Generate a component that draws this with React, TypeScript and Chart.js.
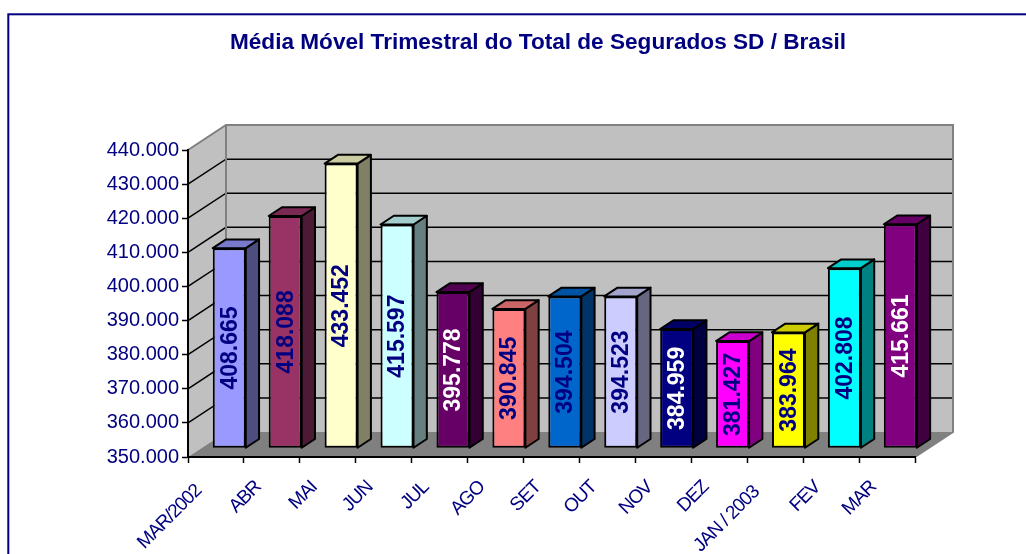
import React, { useEffect, useRef } from 'react';
import { Chart, registerables } from 'chart.js';

Chart.register(...registerables);

// ---------- data ----------
const TITLE = 'Média Móvel Trimestral do Total de Segurados SD / Brasil';
const CATEGORIES = ['MAR/2002', 'ABR', 'MAI', 'JUN', 'JUL', 'AGO', 'SET', 'OUT', 'NOV', 'DEZ', 'JAN / 2003', 'FEV', 'MAR'];
const VALUES = [408665, 418088, 433452, 415597, 395778, 390845, 394504, 394523, 384959, 381427, 383964, 402808, 415661];
const Y_MIN = 350000;
const Y_MAX = 440000;
const Y_STEP = 10000;

// ---------- styles ----------
const NAVY = '#000080';
const FONT = "'Liberation Sans', Arial, sans-serif";
const BAR_COLORS = ['#9999FF', '#993366', '#FFFFCC', '#CCFFFF', '#660066', '#FF8080', '#0066CC', '#CCCCFF', '#000080', '#FF00FF', '#FFFF00', '#00FFFF', '#800080'];
const LABEL_COLORS = [NAVY, NAVY, NAVY, NAVY, '#FFFFFF', NAVY, NAVY, NAVY, '#FFFFFF', NAVY, NAVY, NAVY, '#FFFFFF'];
const DEPTH_X = 38;
const DEPTH_Y = -25;
const BAR_FRONT = 0.35;
const BAR_BACK = 0.7;
const XLABEL_SIZE = 19;
const XLABEL_SPACING = -1;
const XLABEL_DX = -8;
const XLABEL_DY = 29;

function fmt(v: number): string {
  return Math.round(v).toString().replace(/\B(?=(\d{3})+(?!\d))/g, '.');
}

function shade(hex: string, f: number): string {
  const n = parseInt(hex.slice(1), 16);
  const r = Math.round(((n >> 16) & 255) * f);
  const g = Math.round(((n >> 8) & 255) * f);
  const b = Math.round((n & 255) * f);
  return `rgb(${r},${g},${b})`;
}

function poly(ctx: CanvasRenderingContext2D, pts: number[][]) {
  ctx.beginPath();
  ctx.moveTo(pts[0][0], pts[0][1]);
  for (let i = 1; i < pts.length; i++) ctx.lineTo(pts[i][0], pts[i][1]);
  ctx.closePath();
}

const threeD = {
  id: 'threeD',
  beforeDraw(chart: any) {
    const { ctx, chartArea: a, scales } = chart;
    const ys = scales.y;
    const dx = DEPTH_X;
    const dy = DEPTH_Y;
    ctx.save();
    // outer frame
    ctx.strokeStyle = NAVY;
    ctx.lineWidth = 2;
    ctx.strokeRect(8.3, 14.3, 3000, 3000);

    // back wall
    ctx.fillStyle = '#C0C0C0';
    ctx.fillRect(a.left + dx, a.top + dy, a.right - a.left, a.bottom - a.top);
    // side wall
    poly(ctx, [[a.left, a.top], [a.left + dx, a.top + dy], [a.left + dx, a.bottom + dy], [a.left, a.bottom]]);
    ctx.fill();
    // floor
    ctx.fillStyle = '#808080';
    poly(ctx, [[a.left, a.bottom], [a.right, a.bottom], [a.right + dx, a.bottom + dy], [a.left + dx, a.bottom + dy]]);
    ctx.fill();

    // gridlines
    ctx.strokeStyle = '#000000';
    ctx.lineWidth = 1.5;
    for (const t of ys.ticks) {
      if (t.value <= Y_MIN || t.value >= Y_MAX) continue;
      const py = ys.getPixelForValue(t.value);
      ctx.beginPath();
      ctx.moveTo(a.left, py);
      ctx.lineTo(a.left + dx, py + dy);
      ctx.lineTo(a.right + dx, py + dy);
      ctx.stroke();
    }

    // wall edges
    ctx.strokeStyle = '#808080';
    ctx.lineWidth = 2;
    ctx.beginPath();
    ctx.moveTo(a.left, a.top);
    ctx.lineTo(a.left + dx, a.top + dy);
    ctx.lineTo(a.right + dx, a.top + dy);
    ctx.lineTo(a.right + dx, a.bottom + dy);
    ctx.lineTo(a.right, a.bottom);
    ctx.moveTo(a.left + dx, a.top + dy);
    ctx.lineTo(a.left + dx, a.bottom + dy);
    ctx.stroke();
    ctx.restore();
  },
  beforeDatasetsDraw(chart: any) {
    chart.ctx.save();
    chart.ctx.translate(DEPTH_X * BAR_FRONT, DEPTH_Y * BAR_FRONT);
  },
  afterDatasetsDraw(chart: any) {
    const ctx = chart.ctx;
    ctx.restore();
    const meta = chart.getDatasetMeta(0);
    const fx = DEPTH_X * BAR_FRONT;
    const fy = DEPTH_Y * BAR_FRONT;
    const bx = DEPTH_X * BAR_BACK;
    const by = DEPTH_Y * BAR_BACK;
    ctx.save();
    ctx.lineWidth = 2;
    ctx.lineJoin = 'round';
    ctx.strokeStyle = '#000000';
    meta.data.forEach((el: any, i: number) => {
      const { x, y, base, width } = el.getProps(['x', 'y', 'base', 'width'], true);
      const l = x - width / 2;
      const r = x + width / 2;
      const col = BAR_COLORS[i % BAR_COLORS.length];
      // side face
      poly(ctx, [[r + fx, y + fy], [r + bx, y + by], [r + bx, base + by], [r + fx, base + fy]]);
      ctx.fillStyle = shade(col, 0.5);
      ctx.fill();
      ctx.stroke();
      // top face
      poly(ctx, [[l + fx, y + fy], [r + fx, y + fy], [r + bx, y + by], [l + bx, y + by]]);
      ctx.fillStyle = shade(col, 0.8);
      ctx.fill();
      ctx.stroke();
    });
    // value labels
    ctx.font = `bold 23px ${FONT}`;
    ctx.textAlign = 'center';
    ctx.textBaseline = 'middle';
    meta.data.forEach((el: any, i: number) => {
      const { x, y, base } = el.getProps(['x', 'y', 'base'], true);
      ctx.save();
      ctx.translate(x + fx, (y + base) / 2 + fy);
      ctx.rotate(-Math.PI / 2);
      ctx.fillStyle = LABEL_COLORS[i % LABEL_COLORS.length];
      ctx.fillText(fmt(VALUES[i]), 0, 1);
      ctx.restore();
    });
    ctx.restore();
  },
  afterDraw(chart: any) {
    // rotated category labels (condensed, Excel-like)
    const { ctx, scales } = chart;
    const xs = scales.x;
    ctx.save();
    ctx.font = `${XLABEL_SIZE}px ${FONT}`;
    ctx.fillStyle = NAVY;
    ctx.textAlign = 'left';
    ctx.textBaseline = 'alphabetic';
    CATEGORIES.forEach((lab, i) => {
      const px = xs.getPixelForTick(i);
      (ctx as any).letterSpacing = '0px';
      const w0 = ctx.measureText(lab).width;
      (ctx as any).letterSpacing = `${XLABEL_SPACING}px`;
      ctx.save();
      ctx.translate(px + XLABEL_DX, xs.top + XLABEL_DY);
      ctx.rotate(-Math.PI / 4);
      ctx.fillText(lab, -w0, 0);
      ctx.restore();
    });
    (ctx as any).letterSpacing = '0px';
    ctx.restore();
  },
};

export default function App() {
  const ref = useRef<HTMLCanvasElement | null>(null);
  useEffect(() => {
    if (!ref.current) return;
    Chart.defaults.font.family = FONT;
    const chart = new Chart(ref.current, {
      type: 'bar',
      data: {
        labels: CATEGORIES,
        datasets: [
          {
            data: VALUES,
            base: Y_MIN,
            backgroundColor: BAR_COLORS,
            borderColor: '#000000',
            borderWidth: 2,
            borderSkipped: false,
            barPercentage: 0.59,
            categoryPercentage: 1,
            clip: false,
          } as any,
        ],
      },
      options: {
        responsive: false,
        animation: false,
        layout: { padding: { left: 50, right: 0, top: 0, bottom: 0 } },
        plugins: {
          legend: { display: false },
          tooltip: { enabled: false },
          title: {
            display: true,
            text: TITLE,
            color: NAVY,
            font: { size: 22.6, weight: 'bold', family: FONT, lineHeight: 1.2 },
            padding: { top: 29, bottom: 93.9 },
          },
        },
        scales: {
          x: {
            offset: true,
            grid: { display: true, drawOnChartArea: false, drawTicks: true, tickLength: 6, tickColor: '#000000', tickWidth: 1.5, offset: true },
            border: { display: true, color: '#000000', width: 2 },
            ticks: { display: false, autoSkip: false },
            afterFit: (s: any) => {
              s.height = 97;
            },
          },
          y: {
            min: Y_MIN,
            max: Y_MAX,
            grid: { display: true, drawOnChartArea: false, drawTicks: true, tickLength: 6, tickColor: '#000000', tickWidth: 1.5 },
            border: { display: true, color: '#000000', width: 2 },
            ticks: {
              stepSize: Y_STEP,
              color: NAVY,
              font: { size: 20, family: FONT },
              padding: 3,
              callback: (v: any) => fmt(Number(v)),
            },
            afterFit: (s: any) => {
              s.width = 138;
            },
          },
          spacer: {
            type: 'linear',
            position: 'right',
            display: true,
            grid: { display: false, drawTicks: false },
            border: { display: false },
            ticks: { display: false },
            afterFit: (s: any) => {
              s.width = 111;
            },
          },
        },
      } as any,
      plugins: [threeD],
    });
    return () => chart.destroy();
  }, []);
  return (
    <div style={{ position: 'fixed', left: 0, top: 0, width: 1026, height: 554, background: '#FFFFFF' }}>
      <canvas ref={ref} width={1026} height={554} style={{ display: 'block' }} />
    </div>
  );
}
